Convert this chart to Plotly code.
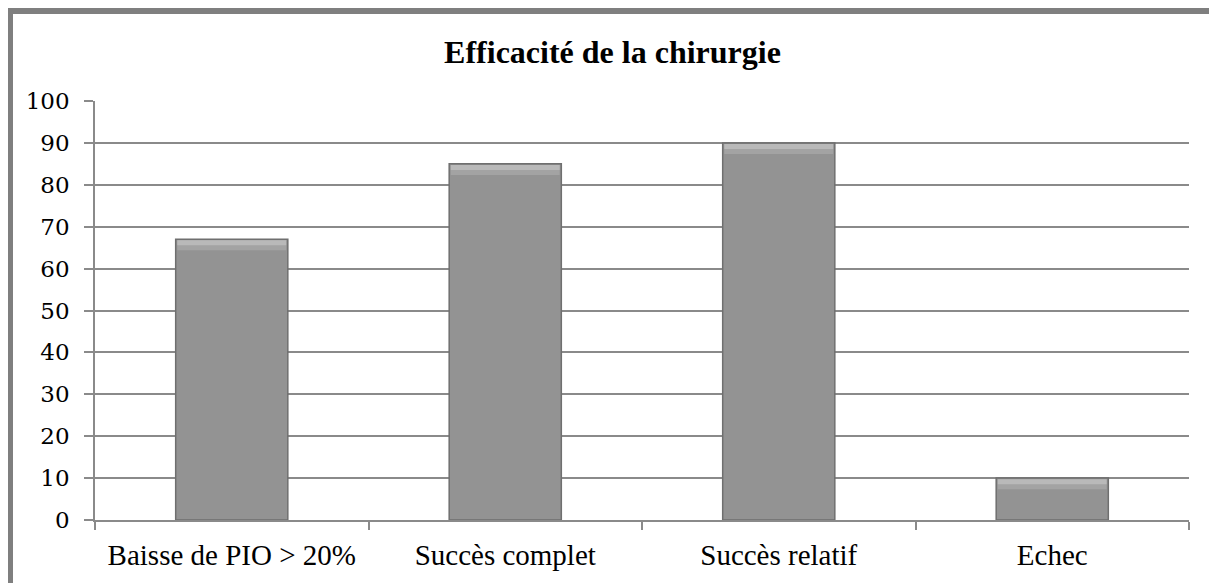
import plotly.graph_objects as go

categories = ["Baisse de PIO > 20%", "Succès complet", "Succès relatif", "Echec"]
values = [67, 85, 90, 10]
y_ticks = [0, 10, 20, 30, 40, 50, 60, 70, 80, 90, 100]
title_text = "Efficacité de la chirurgie"

# page body has an 8px margin; figure occupies window pixels 8..1217 x 8..583
OFF = 8
W, H = 1217 - OFF, 583 - OFF
L, R, T, B = 95 - OFF, 1217 - 1189, 101 - OFF, 583 - 520
pw, ph = W - L - R, H - T - B

def px_x(x):
    return (x - OFF - L) / pw

def px_y(y):
    return (H - B - (y - OFF)) / ph

fig = go.Figure()
fig.add_trace(go.Bar(
    x=categories, y=values,
    marker=dict(color="#939393", line=dict(color="#6f6f6f", width=1.5)),
    width=0.41, hoverinfo="x+y",
))
# bevel highlight bands at the top of each bar (derived from the values)
for thick, col, w in [(2.4, "#a3a3a3", 0.398), (1.2, "#b9b9b9", 0.398)]:
    fig.add_trace(go.Bar(
        x=categories, y=[thick] * len(values), base=[v - thick - 0.25 for v in values],
        marker=dict(color=col, line=dict(width=0)),
        width=w, hoverinfo="skip",
    ))

frame = "#7f7f7f"
shapes = [
    dict(type="rect", xref="paper", yref="paper", x0=px_x(7), x1=px_x(1217), y0=px_y(8), y1=px_y(14),
         fillcolor=frame, line=dict(width=0), layer="above"),
    dict(type="rect", xref="paper", yref="paper", x0=px_x(7), x1=px_x(13), y0=px_y(8), y1=px_y(583),
         fillcolor=frame, line=dict(width=0), layer="above"),
    dict(type="rect", xref="paper", yref="paper", x0=px_x(1214), x1=px_x(1216), y0=px_y(14), y1=px_y(583),
         fillcolor="#a0a0a0", line=dict(width=0), layer="above"),
]

serif = "Liberation Serif, Times New Roman, serif"
fig.update_layout(
    width=W, height=H,
    margin=dict(l=L, r=R, t=T, b=B),
    paper_bgcolor="white", plot_bgcolor="white",
    showlegend=False,
    barmode="overlay",
    shapes=shapes,
    title=dict(text="<b>" + title_text + "</b>", x=0.5, xref="container", xanchor="center",
               y=1 - 44 / H, yref="container", yanchor="middle",
               font=dict(family=serif, size=32, color="black")),
    xaxis=dict(
        showline=True, linecolor="#8a8a8a", linewidth=1.5,
        ticks="outside", ticklen=8, tickcolor="#8a8a8a", tickwidth=1.5,
        tickson="boundaries",
        showgrid=False,
        tickfont=dict(family=serif, size=29, color="black"),
        ticklabelstandoff=8,
    ),
    yaxis=dict(
        range=[0, 100], tickvals=y_ticks,
        showline=True, linecolor="#8a8a8a", linewidth=1.5,
        ticks="outside", ticklen=9, tickcolor="#8a8a8a", tickwidth=1.5,
        showgrid=True, gridcolor="#8a8a8a", gridwidth=1.5,
        zeroline=False,
        tickfont=dict(family="DejaVu Serif", size=23, color="black"),
        ticklabelstandoff=10,
    ),
)

fig.write_html("out.html")
